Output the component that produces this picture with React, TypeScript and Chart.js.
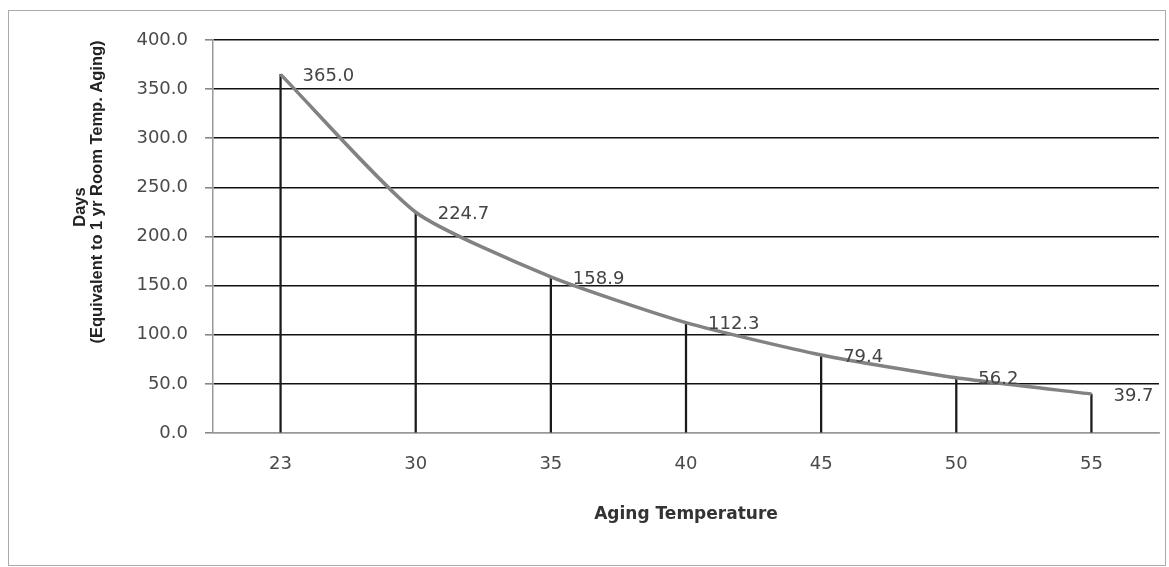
import React, { useEffect, useRef } from "react";
import { Chart, registerables } from "chart.js";

Chart.register(...registerables);

const categories: string[] = ["23", "30", "35", "40", "45", "50", "55"];
const daysValues: number[] = [365.0, 224.7, 158.9, 112.3, 79.4, 56.2, 39.7];
const yTitleLines: string[] = ["Days", "(Equivalent to 1 yr Room Temp. Aging)"];
const yMin = 0;
const yMax = 400;
const yStep = 50;

const dataLabelPlugin = {
  id: "dataLabels",
  afterDatasetsDraw(chart: any) {
    const ctx = chart.ctx;
    const meta = chart.getDatasetMeta(0);
    const ds = chart.data.datasets[0];
    ctx.save();
    ctx.font = "18px 'DejaVu Sans'";
    ctx.fillStyle = "#444";
    ctx.textAlign = "left";
    ctx.textBaseline = "middle";
    meta.data.forEach((el: any, i: number) => {
      const v = ds.data[i] as number;
      ctx.fillText(v.toFixed(1), el.x + 22, el.y + 2);
    });
    ctx.restore();
  },
};

const yTitlePlugin = {
  id: "yTitle",
  afterDraw(chart: any) {
    const ctx = chart.ctx;
    const top = chart.chartArea.top;
    ctx.save();
    ctx.font = "bold 16.5px 'Liberation Sans'";
    ctx.fillStyle = "#222";
    ctx.textAlign = "center";
    ctx.textBaseline = "middle";
    ctx.save();
    ctx.translate(71, top + 167);
    ctx.rotate(-Math.PI / 2);
    ctx.fillText(yTitleLines[0], 0, 0);
    ctx.restore();
    ctx.save();
    ctx.translate(88, top + 152);
    ctx.rotate(-Math.PI / 2);
    ctx.fillText(yTitleLines[1], 0, 0);
    ctx.restore();
    ctx.restore();
  },
};

export default function App() {
  const canvasRef = useRef<HTMLCanvasElement | null>(null);

  useEffect(() => {
    if (!canvasRef.current) return;
    const chart = new Chart(canvasRef.current, {
      type: "line",
      data: {
        labels: categories,
        datasets: [
          {
            type: "line",
            label: "Days",
            data: daysValues,
            borderColor: "#828282",
            borderWidth: 3.5,
            pointRadius: 0,
            tension: 0.2,
            fill: false,
            order: 0,
          },
          {
            type: "bar",
            label: "Drop",
            data: daysValues,
            backgroundColor: "#1a1a1a",
            barThickness: 1.6,
            order: 1,
          } as any,
        ],
      },
      options: {
        responsive: false,
        animation: false,
        layout: { padding: { top: 29, right: 6, left: 0, bottom: 0 } },
        plugins: {
          legend: { display: false },
          tooltip: { enabled: false },
        },
        scales: {
          x: {
            type: "category",
            offset: true,
            grid: { display: false, drawTicks: false },
            border: { display: true, color: "#999", width: 1.5 },
            ticks: {
              color: "#4a4a4a",
              font: { family: "'DejaVu Sans'", size: 18 },
              padding: 21,
              maxRotation: 0,
            },
            title: {
              display: true,
              text: "Aging Temperature",
              color: "#333",
              font: { family: "'DejaVu Sans'", size: 17, weight: "bold" },
              padding: { top: 0, bottom: 40 },
            },
            afterFit(scale: any) {
              scale.height = 132;
            },
          },
          y: {
            min: yMin,
            max: yMax,
            grid: {
              color: (c: any) => (c.tick && c.tick.value === 0 ? "#999" : "#111"),
              lineWidth: 1.6,
              tickColor: "#888",
              tickLength: 8,
            },
            border: { display: true, color: "#999", width: 1.5 },
            ticks: {
              stepSize: yStep,
              color: "#4a4a4a",
              font: { family: "'DejaVu Sans'", size: 18 },
              padding: 17,
              callback: (v: any) => Number(v).toFixed(1),
            },
            title: { display: false },
            afterFit(scale: any) {
              scale.width = 204;
            },
          },
        },
      },
      plugins: [dataLabelPlugin, yTitlePlugin],
    });
    return () => chart.destroy();
  }, []);

  return (
    <div
      style={{
        position: "absolute",
        left: 8,
        top: 10,
        width: 1158,
        height: 556,
        border: "1px solid #aaa",
        boxSizing: "border-box",
        background: "#fff",
      }}
    >
      <canvas ref={canvasRef} width={1156} height={554} style={{ display: "block" }} />
    </div>
  );
}
